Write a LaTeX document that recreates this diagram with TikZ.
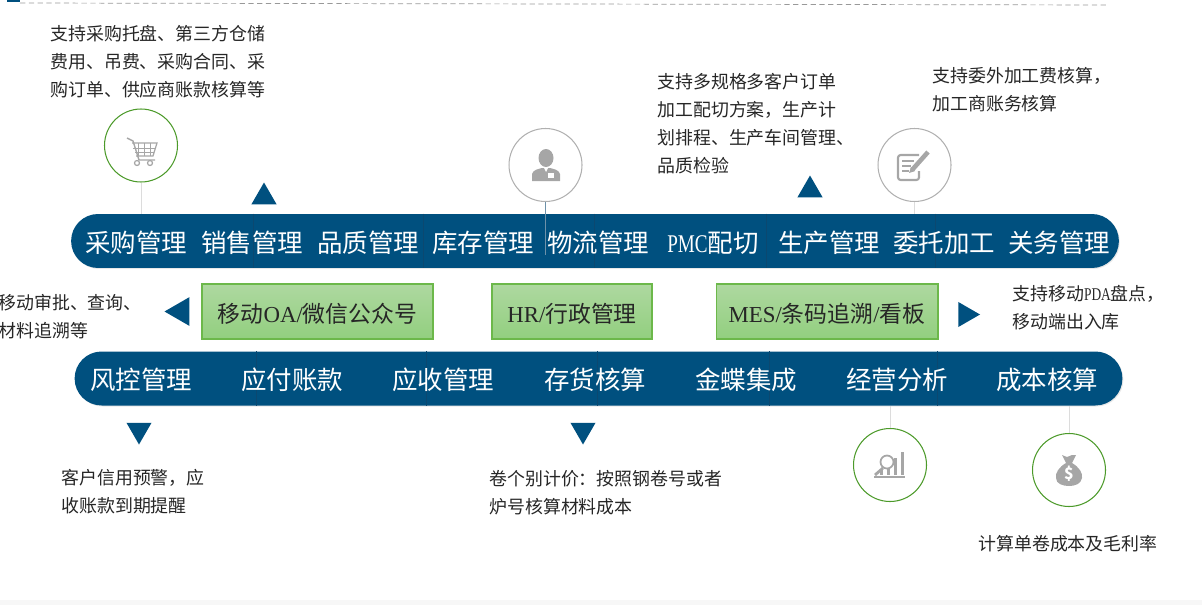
\documentclass[tikz,border=0pt]{standalone}
\usepackage{fontspec}
\usepackage{xcolor}
\setmainfont{Noto Sans CJK SC}
\newfontfamily\latinfont{Liberation Serif}
\newfontfamily\latinnarrow[FakeStretch=0.75]{Liberation Serif}
\usetikzlibrary{positioning,calc,shapes.geometric,shadows}

\definecolor{barBlue}{HTML}{00507F}
\definecolor{barLine}{HTML}{0B4870}
\definecolor{boxTop}{HTML}{AED8A0}
\definecolor{boxBottom}{HTML}{92CF7F}
\definecolor{boxEdge}{HTML}{6CB84A}
\definecolor{ringGreen}{HTML}{4C9A2A}
\definecolor{ringGrey}{HTML}{B0B0B0}
\definecolor{iconGrey}{HTML}{A6A6A6}
\definecolor{stemGrey}{HTML}{DCDCDC}
\definecolor{noteText}{HTML}{262626}

\tikzset{
  bar/.style={fill=barBlue, rounded corners=0.54cm, minimum width=20.96cm, minimum height=1.08cm, inner sep=0pt,
    drop shadow={opacity=0.18, shadow xshift=0.02cm, shadow yshift=-0.02cm}},
  barText/.style={text=white, inner sep=0pt, font=\fontsize{14.5}{16}\selectfont},
  barCut/.style={barLine, line width=0.5pt},
  greenBox/.style={draw=boxEdge, line width=0.6pt, top color=boxTop, bottom color=boxBottom, minimum height=1.1cm, inner sep=0pt,
    text=black!85, text height=13pt, text depth=0pt, font=\fontsize{13}{15}\selectfont},
  ring/.style={circle, draw=#1, line width=0.6pt, minimum size=1.46cm, inner sep=0pt},
  stem/.style={stemGrey, line width=0.5pt},
  note/.style={anchor=west, align=left, inner sep=0pt, text=noteText, font=\fontsize{10.2}{15.9}\selectfont},
  marker/.style={regular polygon, regular polygon sides=3, fill=barBlue, inner sep=0pt, minimum size=0.58cm},
  % small grey icons, drawn round their own origin
  cartIcon/.pic={
    \draw[iconGrey, line width=0.8pt] (-14,-10) -- (-8,-7) -- (-2,12) -- (14,12);
    \draw[iconGrey, line width=0.7pt] (-9,-5) -- (16,-5) -- (12,8) -- (-5,8);
    \foreach \k in {-3,3,9} \draw[iconGrey, line width=0.5pt] (\k,-5) -- (\k,8);
    \draw[iconGrey, line width=0.5pt] (-8,0) -- (15,0) (-6,4) -- (13,4);
    \draw[iconGrey, line width=0.7pt] (-4,15) circle (2.5) (9,15) circle (2.5);
  },
  personIcon/.pic={
    \fill[iconGrey] (1,-7) ellipse (7.5 and 9);
    \fill[iconGrey] (-13,16) -- (-13,9) .. controls (-12,5) and (-7,4) .. (-3,3) -- (5,3)
      .. controls (9,4) and (14,5) .. (15,9) -- (15,16) -- cycle;
    \fill[white] (-1,3) -- (3,3) -- (1,7) -- cycle;
    \fill[white] (3,8) rectangle (9,13);
  },
  noteIcon/.pic={
    \draw[iconGrey, line width=1.2pt, rounded corners=1.5pt] (5,-10) -- (-16,-10) -- (-16,15) -- (5,15) -- (5,6);
    \draw[iconGrey, line width=0.9pt] (-12,-4) -- (0,-4) (-12,1) -- (-3,1) (-12,6) -- (-5,6);
    \draw[iconGrey, line width=2.6pt] (-2,5) -- (14,-13);
    \fill[iconGrey] (-5,8) -- (-3,2) -- (1,6) -- cycle;
  },
  chartIcon/.pic={
    \draw[iconGrey, line width=1pt] (-16,12) -- (15,12);
    \foreach \k/\h in {-10/5, -3/-3, 4/-7, 11/-13}
      \fill[iconGrey] (\k,10) rectangle ++(3,\h-10);
    \draw[iconGrey, fill=white, line width=1pt] (-3,-3) circle (6.5);
    \draw[iconGrey, line width=1.6pt] (-7,3) -- (-15,10);
  },
  bagIcon/.pic={
    \fill[iconGrey] (-7,-15) -- (-2,-13) -- (3,-15) -- (7,-15) -- (3,-7) .. controls (10,-3) and (14,3) .. (13,8)
      .. controls (12,14) and (6,16) .. (0,16) .. controls (-6,16) and (-13,14) .. (-13,8)
      .. controls (-14,3) and (-10,-3) .. (-3,-7) -- cycle;
  }
}

\begin{document}
\begin{tikzpicture}[x=0.02cm, y=-0.02cm]
  \useasboundingbox (0,0) rectangle (1202,605);
  % page marks
  \fill[barBlue] (7,0) rectangle (20,1.5);
  \fill[black!3] (0,600) rectangle (1202,605);
  \coordinate (ruleL) at (20,3);
  \coordinate (ruleR) at (1108,5);
  \draw[black!40, line width=0.4pt, densely dashed] (ruleL) -- (ruleR);

  % Two bars
  \node[bar] (barTop) at (595,241) {};
  \node[bar] (barLow) at (598.5,378.5) {};
  \foreach \x in {253,423,594,766,935}
    \draw[barCut] (\x,0 |- barTop.north) -- (\x,0 |- barTop.south);
  \foreach \x in {256,426,597,769,937}
    \draw[barCut] (\x,0 |- barLow.north) -- (\x,0 |- barLow.south);

  % Labels in the top bar
  \foreach \x/\t/\n in {136/采购管理/buy, 252/销售管理/sale, 368/品质管理/qual, 483/库存管理/stock, 598/物流管理/ship,
      713/{{\latinnarrow PMC}配切}/pmc, 829/生产管理/make, 944/委托加工/out, 1059/关务管理/duty}
    \node[barText] (\n) at (\x,243) {\t};
  % Labels in the lower bar
  \foreach \x/\t/\n in {141/风控管理/risk, 292/应付账款/pay, 443/应收管理/recv, 595/存货核算/inv,
      746/金蝶集成/kd, 897/经营分析/biz, 1047/成本核算/cost}
    \node[barText] (\n) at (\x,380) {\t};

  % Green boxes between the bars
  \node[greenBox, minimum width=4.62cm] (boxOA) at (317.5,311.5) {移动{\latinfont OA/}微信公众号};
  \node[greenBox, minimum width=3.2cm] (boxHR) at (572,311.5) {{\latinfont HR/}行政管理};
  \node[greenBox, minimum width=4.44cm] (boxMES) at (827,311.5) {{\latinfont MES/}条码追溯{\latinfont /}看板};

  % Triangles
  \node[marker] (upSale) at (264,197) {};
  \node[marker] (upMake) at (810,190) {};
  \node[marker, minimum size=0.66cm, shape border rotate=90] (leftOA) at (181,311.5) {};
  \node[marker, shape border rotate=-90] (rightMES) at (965.5,314.5) {};
  \node[marker, shape border rotate=180] (downRisk) at (139,430) {};
  \node[marker, shape border rotate=180] (downInv) at (583,430) {};

  % Rings with stems
  \node[ring=ringGreen] (ringCart) at (141,145.5) {};
  \node[ring=ringGrey] (ringPerson) at (545.5,165) {};
  \node[ring=ringGrey] (ringNote) at (914.5,165) {};
  \node[ring=ringGreen] (ringChart) at (890,465) {};
  \node[ring=ringGreen] (ringBag) at (1069,470) {};
  \coordinate (personEnd) at (ringPerson.south |- ship.south);
  \draw[stem] (ringCart.south) -- (ringCart.south |- barTop.north);
  \draw[stem, barLine!60!white] (ringPerson.south) -- (personEnd);
  \draw[stem] (ringNote.south) -- (ringNote.south |- barTop.north);
  \draw[stem] (ringChart.north) -- (ringChart.north |- barLow.south);
  \draw[stem] (ringBag.north) -- (ringBag.north |- barLow.south);

  % Icons
  \pic at (141,148) {cartIcon};
  \pic at (545,165) {personIcon};
  \pic at (914,165) {noteIcon};
  \pic at (890,465) {chartIcon};
  \pic at (1069,470) {bagIcon};
  \node[text=white, inner sep=0pt, font=\bfseries\fontsize{9}{9}\selectfont] (dollar) at (1069,474) {\$};

  % Notes
  \node[note] (noteBuy) at (50,62) {支持采购托盘、第三方仓储\\费用、吊费、采购合同、采\\购订单、供应商账款核算等};
  \node[note] (noteMake) at (657,124) {支持多规格多客户订单\\加工配切方案，生产计\\划排程、生产车间管理、\\品质检验};
  \node[note] (noteOut) at (932,90) {支持委外加工费核算，\\加工商账务核算};
  \node[note] (noteOA) at (-2,317) {移动审批、查询、\\材料追溯等};
  \node[note] (notePDA) at (1012,308) {支持移动{\latinnarrow PDA}盘点，\\移动端出入库};
  \node[note] (noteRisk) at (61,492) {客户信用预警，应\\收账款到期提醒};
  \node[note] (noteInv) at (489,492.5) {卷个别计价：按照钢卷号或者\\炉号核算材料成本};
  \node[note] (noteCost) at (978,544) {计算单卷成本及毛利率};
\end{tikzpicture}
\end{document}
